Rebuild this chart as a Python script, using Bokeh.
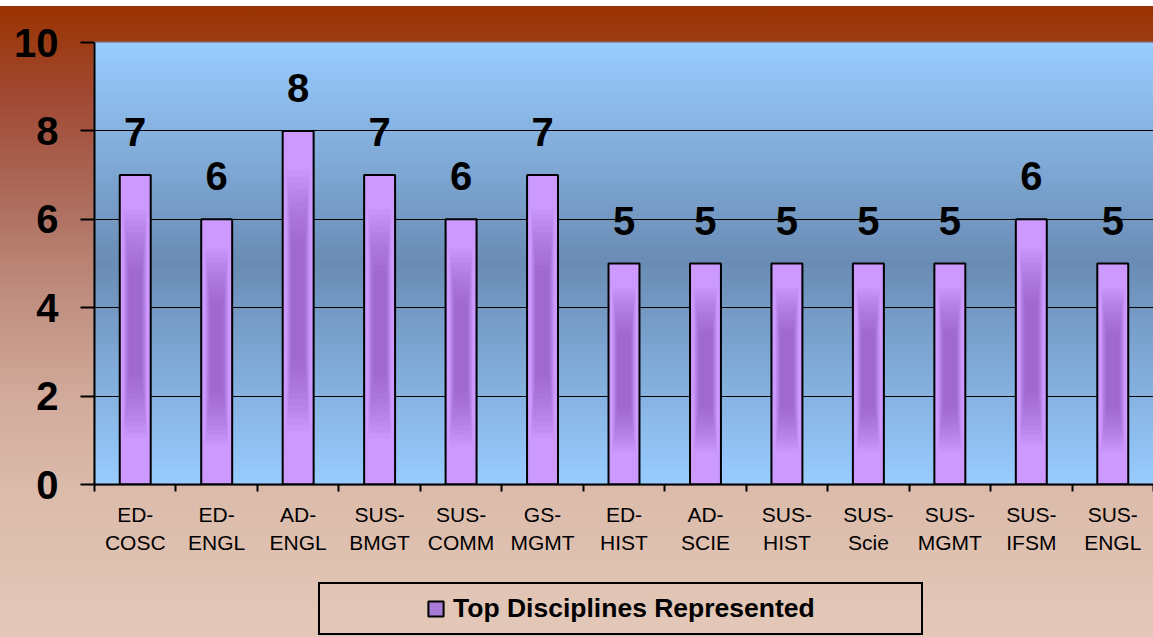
import numpy as np
from bokeh.plotting import figure
from bokeh.layouts import column
from bokeh.models import Range1d, FixedTicker, Legend, LegendItem
from bokeh.core.properties import value
from bokeh.embed import file_html
from bokeh.resources import INLINE

# ---- data ----
categories = ["ED-\nCOSC", "ED-\nENGL", "AD-\nENGL", "SUS-\nBMGT", "SUS-\nCOMM",
              "GS-\nMGMT", "ED-\nHIST", "AD-\nSCIE", "SUS-\nHIST", "SUS-\nScie",
              "SUS-\nMGMT", "SUS-\nIFSM", "SUS-\nENGL"]
counts = [7, 6, 8, 7, 6, 7, 5, 5, 5, 5, 5, 6, 5]
y_ticks = [0, 2, 4, 6, 8, 10]
series_name = "Top Disciplines Represented"

FONT = "Liberation Sans"
BAR_FILL = "#cc99ff"
n = len(categories)
xs = np.arange(n) + 0.5
vals = np.array(counts, dtype=float)

p = figure(width=1153, height=575, x_range=Range1d(0, n), y_range=Range1d(0, 10),
           output_backend="svg", toolbar_location=None,
           min_border_left=94, min_border_right=0, min_border_top=42, min_border_bottom=91)
p.border_fill_alpha = 0
p.background_fill_alpha = 0

# plot-area vertical gradient (light - dark - light)
p.extra_x_ranges = {"frame": Range1d(0, 1)}
rows = 442
t = np.linspace(0, 1, rows)
k = 1 - np.abs(2 * t - 1)
light = np.array([153, 204, 255], dtype=float)
dark = np.array([106, 140, 180], dtype=float)
cols = light[None, :] + (dark - light)[None, :] * k[:, None]
img = np.zeros((rows, 1), dtype=np.uint32)
view = img.view(dtype=np.uint8).reshape((rows, 1, 4))
view[:, 0, 0:3] = cols.round().astype(np.uint8)
view[:, 0, 3] = 255
p.image_rgba(image=[img], x=0, y=0, dw=1, dh=10, x_range_name="frame", level="image")

# bars
bars = p.vbar(x=xs, top=vals, width=0.38, fill_color=BAR_FILL, line_color="black", line_width=2)

# soft darker centre on each bar (shading)
L = 12
for j in range(L):
    wf = 0.74 - 0.34 * j / (L - 1)
    hf = 0.74 - 0.40 * j / (L - 1)
    p.rect(x=xs, y=vals * 0.52, width=0.38 * wf, height=vals * hf,
           fill_color="#6e3fa0", fill_alpha=0.05, line_color=None)

# data labels
p.text(x=xs, y=vals, text=[str(c) for c in counts], text_align="center",
       text_baseline="alphabetic", y_offset=-43, text_font=value(FONT),
       text_font_style="bold", text_font_size="40px", text_color="black")

# y axis
p.yaxis.ticker = FixedTicker(ticks=y_ticks)
p.yaxis.major_label_text_font = FONT
p.yaxis.major_label_text_font_style = "bold"
p.yaxis.major_label_text_font_size = "40px"
p.yaxis.major_label_text_color = "black"
p.yaxis.major_tick_out = 14
p.yaxis.major_tick_in = 0
p.yaxis.major_tick_line_width = 2
p.yaxis.major_tick_line_color = "black"
p.yaxis.minor_tick_line_color = None
p.yaxis.axis_line_width = 2
p.yaxis.axis_line_color = "black"
p.yaxis.major_label_standoff = 22

# x axis
p.xaxis.ticker = FixedTicker(ticks=list(xs), minor_ticks=list(range(n + 1)))
p.xaxis.major_label_overrides = {float(x): c for x, c in zip(xs, categories)}
p.xaxis.major_label_text_font = FONT
p.xaxis.major_label_text_font_size = "21px"
p.xaxis.major_label_text_font_style = "normal"
p.xaxis.major_label_text_color = "black"
p.xaxis.major_label_text_line_height = 1.25
p.xaxis.major_tick_line_color = None
p.xaxis.major_tick_out = 0
p.xaxis.major_tick_in = 0
p.xaxis.minor_tick_out = 7
p.xaxis.minor_tick_in = 0
p.xaxis.minor_tick_line_width = 2
p.xaxis.minor_tick_line_color = "black"
p.xaxis.axis_line_width = 2
p.xaxis.axis_line_color = "black"
p.xaxis.major_label_standoff = 11

# grid
p.xgrid.visible = False
p.ygrid.ticker = FixedTicker(ticks=[2, 4, 6, 8])
p.ygrid.grid_line_color = "black"
p.ygrid.grid_line_width = 1
p.outline_line_color = "#808080"
p.outline_line_width = 2

# ---- legend strip (separate transparent figure under the chart) ----
# its frame is aligned with the chart's frame (left edge at 94 px)
pl = figure(width=1153, height=62, x_range=Range1d(0, n), y_range=Range1d(0, 10),
            output_backend="svg", toolbar_location=None,
            x_axis_type=None, y_axis_type=None,
            min_border_left=0, min_border_right=0, min_border_top=0, min_border_bottom=0)
pl.border_fill_alpha = 0
pl.background_fill_alpha = 0
pl.outline_line_color = None
pl.grid.visible = False
# key glyph for the legend only (renderer hidden, so nothing is drawn in the strip)
swatch = pl.vbar(x=xs[:1], top=vals[:1], width=0.38, fill_color="#a77bd6",
                 line_color="black", line_width=2)
swatch.visible = False

legend = Legend(items=[LegendItem(label=series_name, renderers=[swatch])],
                location=(224, 2), orientation="horizontal",
                border_line_color="black", border_line_width=2, border_line_alpha=1,
                background_fill_alpha=0, inactive_fill_alpha=0,
                label_text_font=FONT, label_text_font_style="bold",
                label_text_font_size="26.5px", label_text_color="black",
                glyph_width=19, glyph_height=19, label_standoff=8,
                label_height=30, margin=0)
legend.padding = {"left": 106, "right": 106, "top": 9, "bottom": 9}
pl.add_layout(legend, "center")

layout = column(p, pl, spacing=0)
layout.styles = {"background": "linear-gradient(to bottom, #ffffff 0px, #ffffff 6px, #9a3300 6px, "
                               "#a14a35 15.7%, #ad6c5c 31.4%, #c08f80 47.1%, #d2ab9b 62.8%, "
                               "#dcbcab 78.5%, #e3c8b9 100%)"}

open("out.html", "w").write(file_html(layout, INLINE))
